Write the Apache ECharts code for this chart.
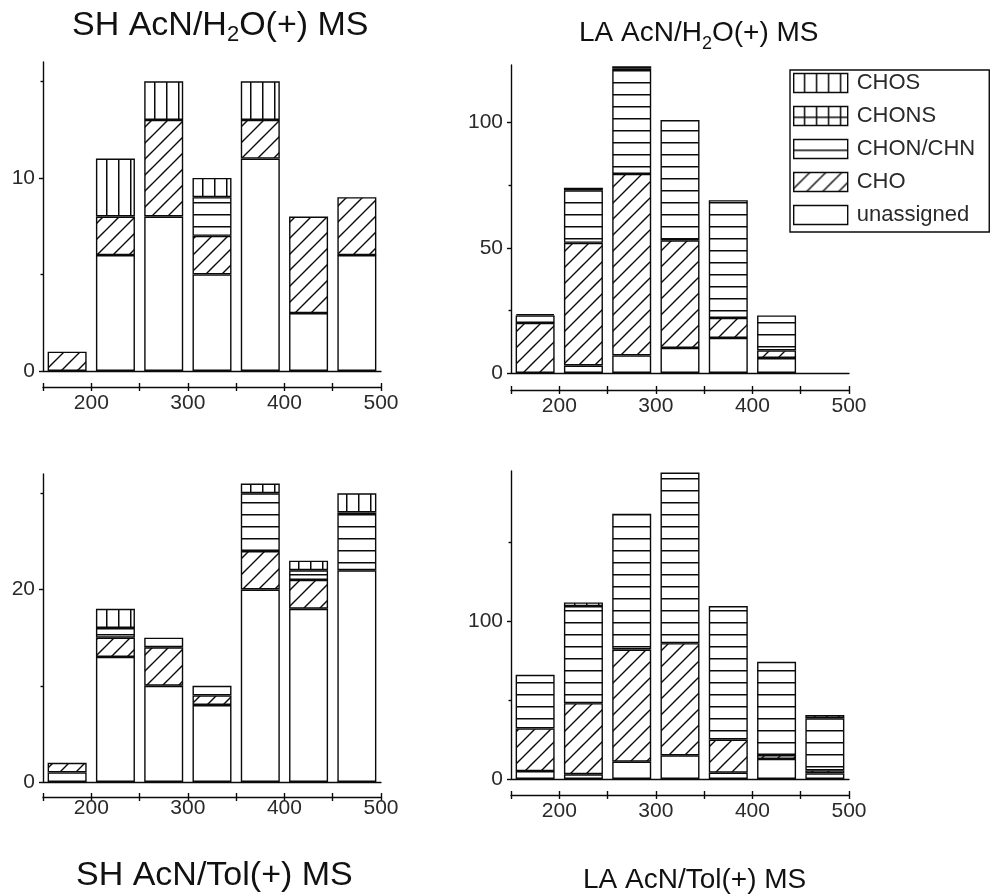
<!DOCTYPE html>
<html><head><meta charset="utf-8">
<script src="https://cdn.jsdelivr.net/npm/echarts@6/dist/echarts.min.js"></script>
<style>html,body{margin:0;padding:0;background:#fff}#c{width:992px;height:896px}</style>
</head><body><div id="c"></div>
<script>
// ---------- data ----------
const massBins = ['175','225','275','325','375','425','475'];
const xTickValues = [150,200,250,300,350,400,450,500];
const xTickLabels = [200,300,400,500];
const seriesNames = ['unassigned','CHO','CHON/CHN','CHONS','CHOS'];
const legendOrder = ['CHOS','CHONS','CHON/CHN','CHO','unassigned'];

// SH AcN/H2O(+) MS
const shH2O_unassigned = [0,6,8,5,11,3,6];
const shH2O_CHO        = [1,2,5,2,2,5,3];
const shH2O_CHON       = [0,0,0,2,0,0,0];
const shH2O_CHONS      = [0,0,0,0,0,0,0];
const shH2O_CHOS       = [0,3,2,1,2,0,0];
const shH2O_yTicks = [0,10], shH2O_yMinor = [5,15], shH2O_yLabels = [0,10];

// LA AcN/H2O(+) MS
const laH2O_unassigned = [0,3,7,10,14,6,0];
const laH2O_CHO        = [20,49,72.5,43,8,3,0];
const laH2O_CHON       = [3,21,42,48,47,14,0];
const laH2O_CHONS      = [0.5,1,1,0,0,0,0];
const laH2O_CHOS       = [0,0,0,0,0,0,0];
const laH2O_yTicks = [0,50,100], laH2O_yMinor = [25,75], laH2O_yLabels = [0,50,100];

// SH AcN/Tol(+) MS
const shTol_unassigned = [1,13,10,8,20,18,22];
const shTol_CHO        = [1,2,4,1,4,3,0];
const shTol_CHON       = [0,1,1,1,6,1,6];
const shTol_CHONS      = [0,0,0,0,0,0,0];
const shTol_CHOS       = [0,2,0,0,1,1,2];
const shTol_yTicks = [0,20], shTol_yMinor = [10,30], shTol_yLabels = [0,20];

// LA AcN/Tol(+) MS
const laTol_unassigned = [5,3,11,15,4,12.7,3.5];
const laTol_CHO        = [27,45,71,71,21,2.5,2];
const laTol_CHON       = [34,61.5,86,108,84.5,59,33];
const laTol_CHONS      = [0,2.3,0,0,0,0,2];
const laTol_CHOS       = [0,0,0,0,0,0,0];
const laTol_yTicks = [0,100], laTol_yMinor = [50,150], laTol_yLabels = [0,100];

// ---------- patterns ----------
const INK = '#0a0a0a';
function tile(size, draw){
  const c = document.createElement('canvas'); c.width = size; c.height = size;
  const g = c.getContext('2d'); g.fillStyle = '#fff'; g.fillRect(0,0,size,size);
  g.fillStyle = INK; g.strokeStyle = INK; draw(g, size); return c;
}
const patterns = {
  'unassigned': '#ffffff',
  'CHO': {image: tile(16, (g,s)=>{ g.lineWidth = 1.4; g.beginPath();
      g.moveTo(0,s); g.lineTo(s,0); g.moveTo(-2,2); g.lineTo(2,-2); g.moveTo(s-2,s+2); g.lineTo(s+2,s-2); g.stroke(); }), repeat:'repeat'},
  'CHON/CHN': {image: tile(12, (g,s)=>{ g.fillRect(0,s-2,s,1.5); }), repeat:'repeat'},
  'CHONS': {image: tile(12, (g,s)=>{ g.fillRect(0,s-2,s,1.5); g.fillRect(s-2,0,1.5,s); }), repeat:'repeat'},
  'CHOS': {image: tile(12, (g,s)=>{ g.fillRect(s-2,0,1.5,s); }), repeat:'repeat'}
};

const FONT = 'Liberation Sans, Arial, Helvetica, sans-serif';
const AX = {color:INK, width:1.4};

const panels = [
  {grid:{left:43, top:62, width:338, height:309}, ymax:16, off:16, xm:6,
   yT:shH2O_yTicks, yM:shH2O_yMinor, yL:shH2O_yLabels,
   vals:[shH2O_unassigned, shH2O_CHO, shH2O_CHON, shH2O_CHONS, shH2O_CHOS]},
  {grid:{left:511, top:65, width:338, height:308}, ymax:123, off:17, xm:6,
   yT:laH2O_yTicks, yM:laH2O_yMinor, yL:laH2O_yLabels,
   vals:[laH2O_unassigned, laH2O_CHO, laH2O_CHON, laH2O_CHONS, laH2O_CHOS]},
  {grid:{left:43, top:474, width:338, height:308}, ymax:32, off:15, xm:1,
   yT:shTol_yTicks, yM:shTol_yMinor, yL:shTol_yLabels,
   vals:[shTol_unassigned, shTol_CHO, shTol_CHON, shTol_CHONS, shTol_CHOS]},
  {grid:{left:511, top:471, width:338, height:308}, ymax:195, off:16, xm:6,
   yT:laTol_yTicks, yM:laTol_yMinor, yL:laTol_yLabels,
   vals:[laTol_unassigned, laTol_CHO, laTol_CHON, laTol_CHONS, laTol_CHOS]}
];

const grid = [], xAxis = [], yAxis = [], series = [];
panels.forEach((p, i) => {
  grid.push(p.grid);
  xAxis.push({gridIndex:i, type:'category', data:massBins, boundaryGap:true, position:'bottom',
    axisLine:{show:true, lineStyle:AX}, axisTick:{show:false}, axisLabel:{show:false}, splitLine:{show:false}});
  xAxis.push({gridIndex:i, type:'value', min:150, max:500, position:'bottom', offset:p.off,
    axisLine:{show:true, onZero:false, lineStyle:AX},
    axisTick:{show:true, customValues:xTickValues, length:4, inside:false, lineStyle:AX},
    axisLabel:{show:true, customValues:xTickLabels, margin:p.xm, fontSize:21, color:'#2a2a2a', fontFamily:FONT},
    splitLine:{show:false}});
  xAxis.push({gridIndex:i, type:'value', min:150, max:500, position:'bottom', offset:p.off,
    axisLine:{show:false, onZero:false},
    axisTick:{show:true, customValues:xTickValues, length:4, inside:true, lineStyle:AX},
    axisLabel:{show:false}, splitLine:{show:false}});
  yAxis.push({gridIndex:i, type:'value', min:0, max:p.ymax, position:'left',
    axisLine:{show:true, lineStyle:AX},
    axisTick:{show:true, customValues:p.yT, length:4, lineStyle:AX},
    axisLabel:{show:true, customValues:p.yL, margin:8, fontSize:21, color:'#2a2a2a', fontFamily:FONT},
    splitLine:{show:false}});
  yAxis.push({gridIndex:i, type:'value', min:0, max:p.ymax, position:'left', offset:0,
    axisLine:{show:false},
    axisTick:{show:true, customValues:p.yM, length:2.5, lineStyle:AX},
    axisLabel:{show:false}, splitLine:{show:false}});
  seriesNames.forEach((name, k) => {
    series.push({type:'bar', name, xAxisIndex:3*i, yAxisIndex:2*i, stack:'s'+i,
      barWidth:39, data:p.vals[k].map(v => v > 0 ? v : '-'),
      itemStyle:{color:patterns[name], borderColor:INK, borderWidth:1.4},
      emphasis:{disabled:true}, silent:true});
  });
});

const titleBase = (fs, sub) => ({fontSize:fs, fontWeight:'normal', color:'#111', fontFamily:FONT, lineHeight:40,
  rich:{s:{fontSize:sub, lineHeight:14, verticalAlign:'bottom', color:'#111', fontFamily:FONT}}});

const option = {
  animation:false,
  backgroundColor:'#fff',
  title:[
    {text:'SH AcN/H{s|2}O(+) MS', left:72, top:6, padding:0, textStyle:titleBase(34,22)},
    {text:'LA AcN/H{s|2}O(+) MS', left:579, top:13, padding:0, textStyle:titleBase(28,18)},
    {text:'SH AcN/Tol(+) MS', left:76, top:856, padding:0, textStyle:titleBase(34,22)},
    {text:'LA AcN/Tol(+) MS', left:583, top:860, padding:0, textStyle:titleBase(28,18)}
  ],
  legend:{data:legendOrder, orient:'vertical', left:790, top:70, icon:'rect',
    itemWidth:54, itemHeight:19, itemGap:11, selectedMode:false,
    padding:[2,14,6,3], borderColor:INK, borderWidth:1.4, borderRadius:0,
    itemStyle:{borderColor:INK, borderWidth:1.4},
    textStyle:{fontSize:22, color:'#2a2a2a', fontFamily:FONT, padding:[0,0,0,4]}},
  grid, xAxis, yAxis, series
};
echarts.init(document.getElementById('c'), null, {renderer:'canvas'}).setOption(option);
</script></body></html>
